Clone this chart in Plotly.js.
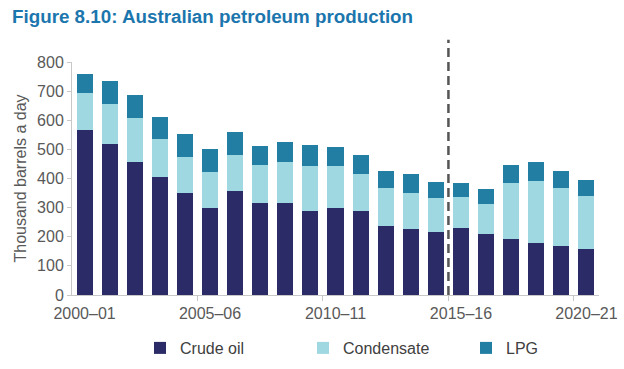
<!DOCTYPE html>
<html>
<head>
<meta charset="utf-8">
<script src="https://cdn.plot.ly/plotly-3.0.1.min.js"></script>
<style>html,body{margin:0;padding:0;background:#fff;}#chart{width:624px;height:369px;}</style>
</head>
<body>
<div id="chart"></div>
<script>
const years = ['2000–01','2001–02','2002–03','2003–04','2004–05','2005–06','2006–07','2007–08','2008–09','2009–10',
  '2010–11','2011–12','2012–13','2013–14','2014–15','2015–16','2016–17','2017–18','2018–19','2019–20','2020–21'];
const crudeOil   = [565,519,458,404,351,300,358,316,317,288,298,288,238,225,218,230,210,192,177,168,158];
const condensate = [127,136,150,130,123,122,121,129,140,156,146,129,130,125,114,105,102,194,216,200,183];
const lpg        = [ 68, 79, 80, 77, 79, 81, 79, 67, 68, 70, 65, 64, 58, 64, 56, 50, 53, 62, 63, 57, 54];
const tickLabels = ['2000–01','2005–06','2010–11','2015–16','2020–21'];
const projectionStart = '2015–16';

const seriesNames = ['Crude oil','Condensate','LPG'];
const seriesColors = ['#2a2b67','#9fd8e1','#237ea3'];
const seriesData = [crudeOil, condensate, lpg];

const traces = seriesData.map((vals, i) => ({
  type: 'bar', x: years, y: vals, name: seriesNames[i],
  marker: {color: seriesColors[i], line: {width: 0}},
  hoverinfo: 'x+y+name'
}));

const divIdx = years.indexOf(projectionStart) - 0.5;
const boundaryTicks = [];
for (let i = 5; i < years.length; i += 5) boundaryTicks.push(i - 0.5);

const layout = {
  width: 624, height: 369,
  margin: {l: 72, r: 25, t: 62, b: 74},
  paper_bgcolor: '#fff', plot_bgcolor: '#fff',
  font: {family: 'Liberation Sans, Arial, sans-serif', color: '#595959', size: 16},
  title: {text: 'Figure 8.10: Australian petroleum production', xref: 'container', yref: 'container',
    x: 12/624, xanchor: 'left', y: 1 - 16/369, yanchor: 'middle',
    font: {family: 'Liberation Sans, Arial, sans-serif', size: 18.8, color: '#1b76ad', weight: 'bold'}},
  barmode: 'stack', bargap: 0.36,
  showlegend: true,
  legend: {orientation: 'h', x: 140/624, xanchor: 'left', xref: 'container', y: 1 - 348/369, yref: 'container', yanchor: 'middle',
    traceorder: 'normal', entrywidth: 118, entrywidthmode: 'pixels', itemwidth: 30,
    font: {size: 16, color: '#404040'}},
  xaxis: {type: 'category', range: [-0.5, years.length - 0.5], tickvals: tickLabels, ticktext: tickLabels,
    showgrid: false, zeroline: false, showline: true, linecolor: '#c8c8c8', linewidth: 1,
    ticks: '', ticklabelstandoff: 4, tickfont: {size: 16, color: '#595959'}, fixedrange: true},
  xaxis2: {overlaying: 'x', type: 'linear', range: [-0.5, years.length - 0.5], tickvals: boundaryTicks,
    showticklabels: false, ticks: 'outside', ticklen: 5, tickcolor: '#c8c8c8', showgrid: false, zeroline: false,
    showline: false, side: 'bottom', anchor: 'y'},
  yaxis: {range: [0, 800], dtick: 100, showgrid: false, zeroline: false, showline: true, linecolor: '#c8c8c8',
    ticks: 'outside', ticklen: 4, tickcolor: '#c8c8c8', tickfont: {size: 16, color: '#595959'},
    title: {text: 'Thousand barrels a day', font: {size: 16, color: '#595959'}, standoff: 6}},
  shapes: [{type: 'line', xref: 'x2', yref: 'paper', x0: divIdx, x1: divIdx, y0: 0, y1: 1.095,
    line: {color: '#555555', width: 2.5, dash: '9px,5px'}}]
};

Plotly.newPlot('chart', traces, layout, {displayModeBar: false, staticPlot: true});
</script>
</body>
</html>
